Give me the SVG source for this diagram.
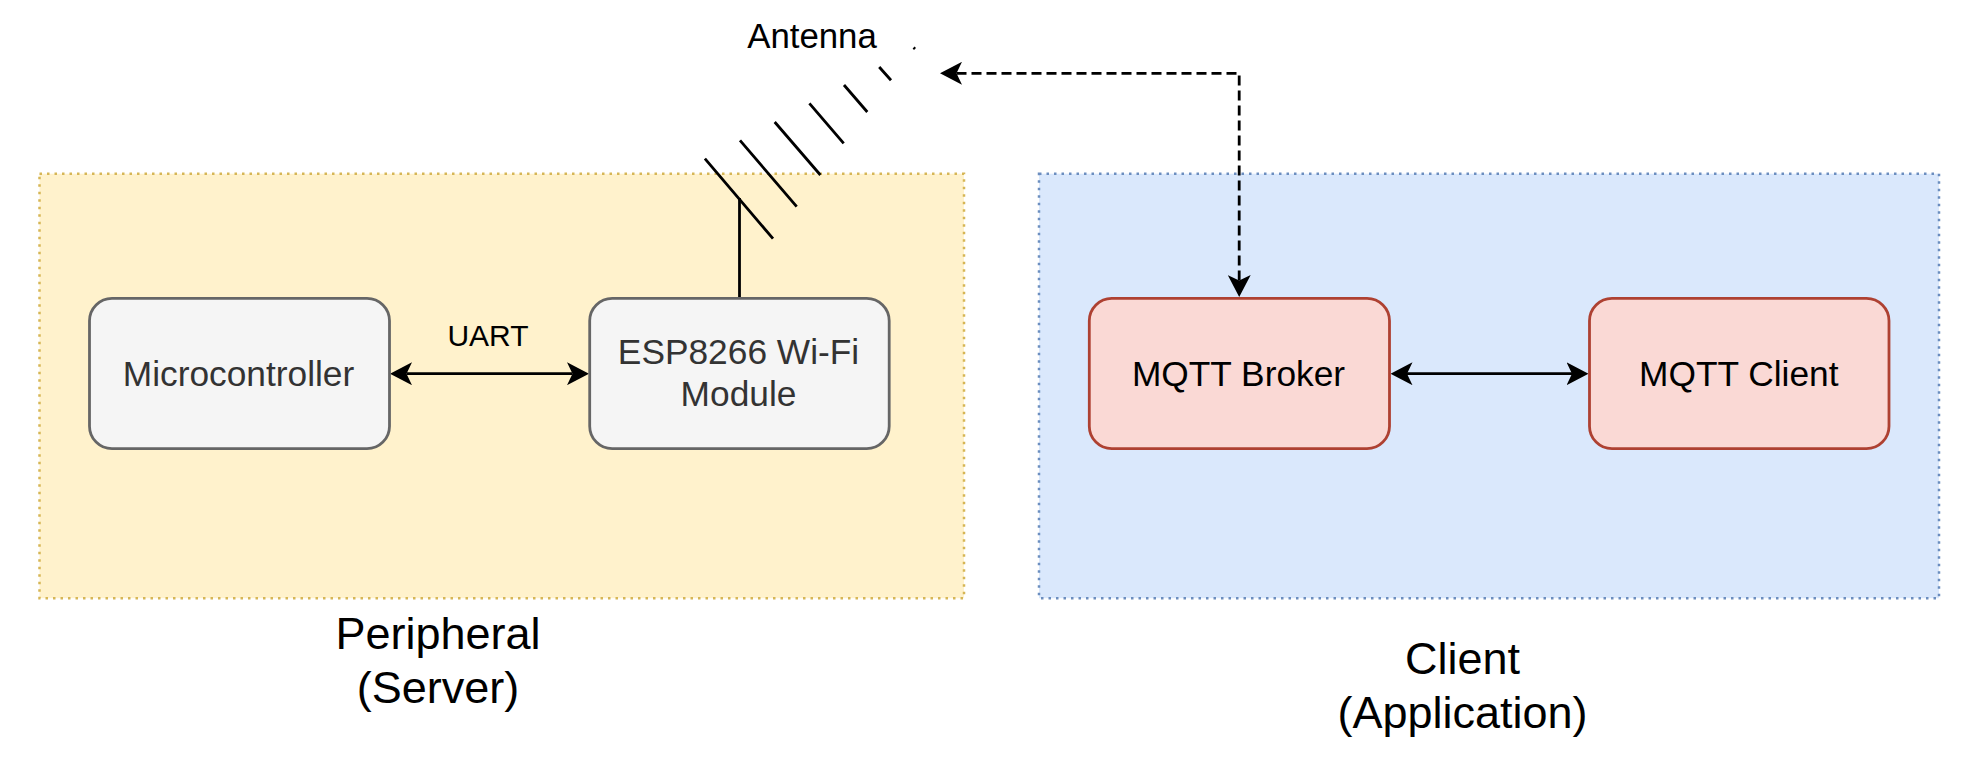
<svg xmlns="http://www.w3.org/2000/svg" width="1971" height="768" viewBox="0 0 1971 768">
<style>
text{font-family:"Liberation Sans",Arial,sans-serif;text-anchor:middle;fill:#000}
.n{font-size:35.3px}
.g{fill:#333}
.big{font-size:45px}
.zone{stroke-width:2.5;stroke-dasharray:2.5 5}
.box{stroke-width:2.8}
.gray{fill:#f5f5f5;stroke:#666}
.red{fill:#fad9d5;stroke:#ae4132}
.ln{fill:none;stroke:#000;stroke-width:2.8}
.ant{stroke:#000;stroke-width:2.8;fill:none}
</style>
<defs>
<marker id="arr" markerUnits="userSpaceOnUse" markerWidth="22" markerHeight="23" viewBox="0 0 22 23" refX="5.5" refY="11.5" orient="auto-start-reverse"><path d="M22,11.5 L0,0 L5.5,11.5 L0,23 Z" fill="#000"/></marker>
</defs>
<g id="peripheral-zone"><rect class="zone" x="39.5" y="173.7" width="924.5" height="424.5" fill="#fff2cc" stroke="#d6b656"/></g>
<g id="client-zone"><rect class="zone" x="1039" y="173.7" width="900" height="424.5" fill="#dae8fc" stroke="#6c8ebf"/></g>
<g id="connectors">
<path class="ln" d="M739.5,298 V198"/>
<path class="ln" d="M406.5,373.7 H572.5" marker-start="url(#arr)" marker-end="url(#arr)"/>
<path class="ln" d="M1407,373.7 H1572" marker-start="url(#arr)" marker-end="url(#arr)"/>
<path class="ln" d="M956.5,73.3 H1239.2 V280.5" stroke-dasharray="10 5" marker-start="url(#arr)" marker-end="url(#arr)"/>
</g>
<g id="antenna">
<path class="ant" d="M704.9,158.7 L773,238.7 M740,140.3 L796.7,206.7 M774.7,122 L820.4,175 M809.4,103.3 L843.7,143.3 M844,85 L867.3,112 M879.2,67 L891,80.3 M913.6,47.6 L915,49"/>
<text x="812" y="47.7" font-size="34.8">Antenna</text>
</g>
<g id="microcontroller"><rect class="box gray" x="89.5" y="298.3" width="300" height="150.4" rx="22.5"/><text class="n g" x="238.5" y="386">Microcontroller</text></g>
<g id="esp8266"><rect class="box gray" x="589.7" y="298.3" width="299.5" height="150.4" rx="22.5"/><text class="n g" x="738.5" y="364">ESP8266 Wi-Fi</text><text class="n g" x="738.5" y="406">Module</text></g>
<g id="mqtt-broker"><rect class="box red" x="1089.3" y="298.3" width="300.2" height="150.4" rx="22.5"/><text class="n" x="1238.5" y="386">MQTT Broker</text></g>
<g id="mqtt-client"><rect class="box red" x="1589.5" y="298.3" width="299.5" height="150.4" rx="22.5"/><text class="n" x="1738.8" y="386">MQTT Client</text></g>
<g id="uart-label"><text x="488" y="345.7" font-size="30">UART</text></g>
<g id="peripheral-label"><text class="big" x="438" y="648.5">Peripheral</text><text class="big" x="438" y="702.5">(Server)</text></g>
<g id="client-label"><text class="big" x="1462.5" y="673.5">Client</text><text class="big" x="1462.5" y="727.5">(Application)</text></g>
</svg>
